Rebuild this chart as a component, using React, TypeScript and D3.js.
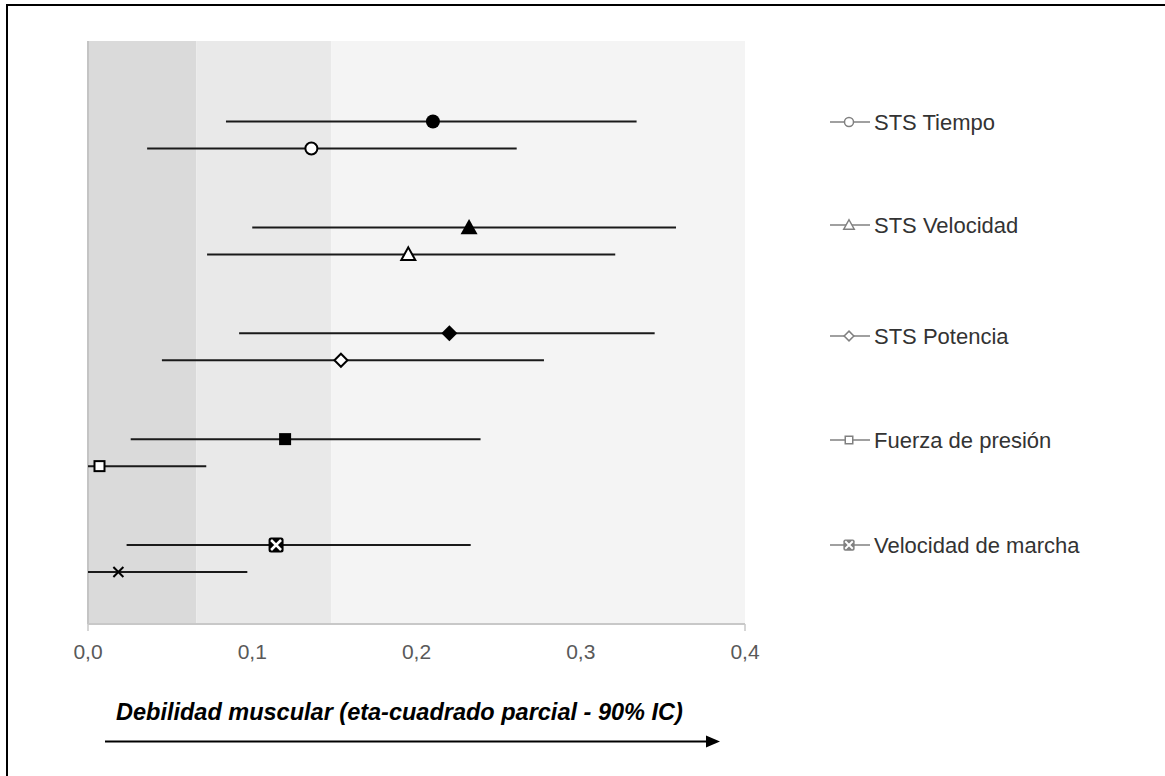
import React from 'react';
import * as d3 from 'd3';

const width = 1165;
const height = 776;

const categories = ['STS Tiempo', 'STS Velocidad', 'STS Potencia', 'Fuerza de presión', 'Velocidad de marcha'];
const shapes = ['circle', 'triangle', 'diamond', 'square', 'cross'];

// filled markers (upper row of each pair)
const filledEst = [0.21, 0.232, 0.22, 0.12, 0.1145];
const filledLo = [0.084, 0.1, 0.092, 0.026, 0.0235];
const filledHi = [0.334, 0.358, 0.345, 0.239, 0.233];

// open markers (lower row)
const openEst = [0.136, 0.195, 0.154, 0.007, 0.0185];
const openLo = [0.036, 0.0725, 0.045, 0, 0];
const openHi = [0.261, 0.321, 0.2776, 0.072, 0.097];

const xTicks = [0, 0.1, 0.2, 0.3, 0.4];
const bands = [0, 0.066, 0.148, 0.4];
const bandColors = ['#dadada', '#e9e9e9', '#f4f4f4'];

const title = 'Debilidad muscular (eta-cuadrado parcial - 90% IC)';

const plot = { left: 88, right: 745, top: 41, bottom: 624 };

const x = d3.scaleLinear().domain([0, 0.4]).range([plot.left, plot.right]);
const y = d3.scalePoint<string>().domain(categories).range([135, 558.5]);
const off = 13.5;

function Marker({ shape, cx, cy, filled, s = 1, color = '#000' }: any) {
	const fill = filled ? color : '#fff';
	const sw = 2 * s;
	if (shape === 'circle') {
		return <circle cx={cx} cy={cy} r={filled ? 7 * s : 6 * s} fill={fill} stroke={color} strokeWidth={filled ? 0 : sw} />;
	}
	if (shape === 'triangle') {
		const r = filled ? 8.5 * s : 7 * s;
		const pts = [[cx, cy - r], [cx + r, cy + r * 0.8], [cx - r, cy + r * 0.8]];
		return <polygon points={pts.map(p => p.join(',')).join(' ')} fill={fill} stroke={color} strokeWidth={filled ? 0 : sw} strokeLinejoin="miter" />;
	}
	if (shape === 'diamond') {
		const r = filled ? 8 * s : 6.5 * s;
		const pts = [[cx, cy - r], [cx + r, cy], [cx, cy + r], [cx - r, cy]];
		return <polygon points={pts.map(p => p.join(',')).join(' ')} fill={fill} stroke={color} strokeWidth={filled ? 0 : sw} />;
	}
	if (shape === 'square') {
		const h = filled ? 6 * s : 5 * s;
		return <rect x={cx - h} y={cy - h} width={h * 2} height={h * 2} fill={fill} stroke={color} strokeWidth={filled ? 0 : sw} />;
	}
	// cross
	if (filled) {
		const h = 7.5 * s;
		const k = 5 * s;
		return (
			<g>
				<rect x={cx - h} y={cy - h} width={h * 2} height={h * 2} rx={2.5 * s} fill={color} />
				<path d={`M${cx - k},${cy - k}L${cx + k},${cy + k}M${cx + k},${cy - k}L${cx - k},${cy + k}`} stroke="#fff" strokeWidth={2.5 * s} />
			</g>
		);
	}
	const k = 5 * s;
	return <path d={`M${cx - k},${cy - k}L${cx + k},${cy + k}M${cx + k},${cy - k}L${cx - k},${cy + k}`} stroke={color} strokeWidth={sw} />;
}

export default function App() {
	const rows = categories.map((c, i) => ({
		cat: c,
		shape: shapes[i],
		yF: (y(c) as number) - off,
		yO: (y(c) as number) + off
	}));
	const legendY = [122, 225, 336, 440, 545];
	const edgeTicks = [xTicks[0], xTicks[xTicks.length - 1]];

	return (
		<svg width={width} height={height} style={{ position: 'absolute', left: 0, top: 0, display: 'block' }} fontFamily="'Liberation Sans', Arial, sans-serif">
			<rect x={0} y={0} width={width} height={height} fill="#fff" />
			{/* frame */}
			<line x1={7} y1={5} x2={7} y2={height} stroke="#000" strokeWidth={2} />
			<line x1={6} y1={5} x2={width} y2={5} stroke="#000" strokeWidth={2} />

			{/* background bands */}
			{bandColors.map((col, i) => (
				<rect key={i} x={x(bands[i])} y={plot.top} width={x(bands[i + 1]) - x(bands[i])} height={plot.bottom - plot.top} fill={col} />
			))}
			<line x1={plot.left} y1={plot.top} x2={plot.left} y2={plot.bottom} stroke="#c4c4c4" strokeWidth={2} />

			{/* axis */}
			<line x1={plot.left} y1={plot.bottom} x2={plot.right} y2={plot.bottom} stroke="#c8c8c8" strokeWidth={2} />
			{edgeTicks.map(t => (
				<line key={t} x1={x(t)} y1={plot.bottom} x2={x(t)} y2={plot.bottom + 7} stroke="#c8c8c8" strokeWidth={1.5} />
			))}
			{xTicks.map(t => (
				<text key={t} x={x(t)} y={659} textAnchor="middle" fontSize={21} fill="#595959">
					{d3.format('.1f')(t).replace('.', ',')}
				</text>
			))}

			{/* error bars */}
			{rows.map((r, i) => (
				<g key={r.cat}>
					<line x1={x(filledLo[i])} x2={x(filledHi[i])} y1={r.yF} y2={r.yF} stroke="#1a1a1a" strokeWidth={2} />
					<line x1={x(openLo[i])} x2={x(openHi[i])} y1={r.yO} y2={r.yO} stroke="#1a1a1a" strokeWidth={2} />
					<Marker shape={r.shape} cx={x(filledEst[i])} cy={r.yF} filled />
					<Marker shape={r.shape} cx={x(openEst[i])} cy={r.yO} filled={false} />
				</g>
			))}

			{/* legend */}
			{categories.map((c, i) => (
				<g key={c}>
					<line x1={830} x2={870} y1={legendY[i]} y2={legendY[i]} stroke="#808080" strokeWidth={1.5} />
					<Marker shape={shapes[i]} cx={849} cy={legendY[i]} filled={shapes[i] === 'cross'} s={0.75} color="#808080" />
					<text x={874} y={legendY[i]} dy="0.35em" fontSize={22} fill="#333">
						{c}
					</text>
				</g>
			))}

			{/* axis title + arrow */}
			<text x={116} y={720} fontSize={23.5} fontWeight="bold" fontStyle="italic" fill="#000">
				{title}
			</text>
			<line x1={105} y1={741.5} x2={708} y2={741.5} stroke="#000" strokeWidth={2} />
			<polygon points="720,741.5 706,735.5 706,747.5" fill="#000" />
		</svg>
	);
}
